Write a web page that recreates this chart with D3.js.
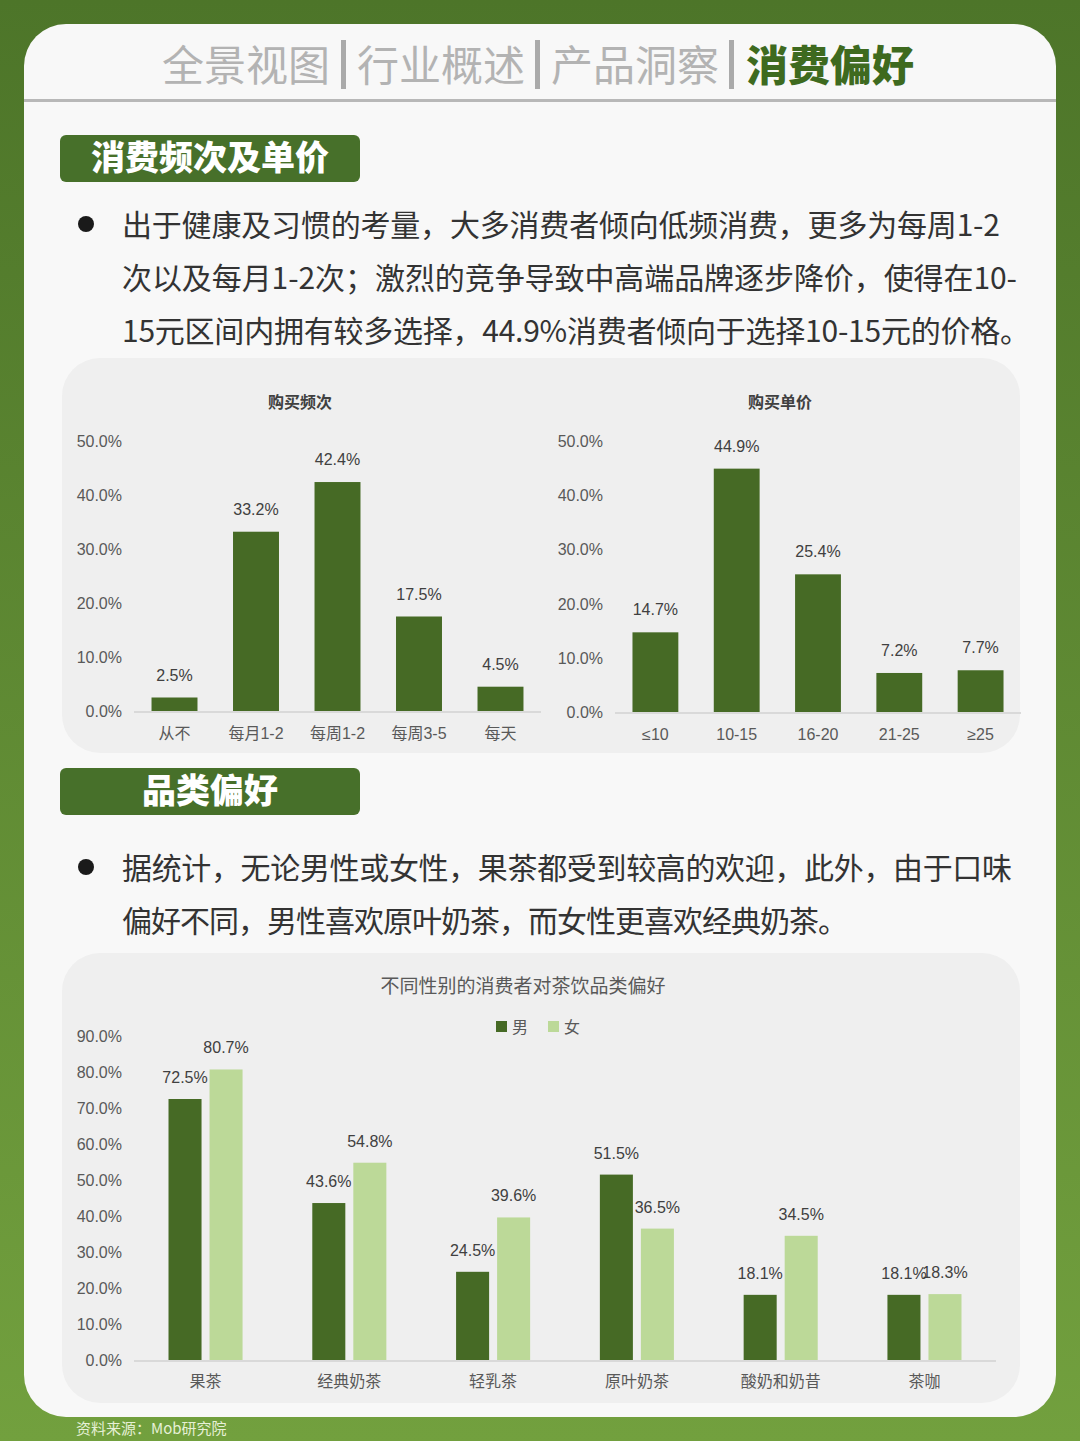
<!DOCTYPE html>
<html><head><meta charset="utf-8">
<script src="https://cdn.jsdelivr.net/npm/d3@7"></script>
<style>
html,body{margin:0;padding:0;background:#5a8330;}
svg{display:block;}
text{font-family:"Noto Sans CJK SC","Noto Sans",sans-serif;}
.num{font-family:"Liberation Sans",Arial,"Noto Sans CJK SC",sans-serif;}
</style></head>
<body>
<svg id="c" width="1080" height="1441"></svg>
<script>
// ---- data ----
const navItems = ["全景视图","行业概述","产品洞察","消费偏好"];
const freqCats = ["从不","每月1-2","每周1-2","每周3-5","每天"];
const freqVals = [2.5,33.2,42.4,17.5,4.5];
const priceCats = ["≤10","10-15","16-20","21-25","≥25"];
const priceVals = [14.7,44.9,25.4,7.2,7.7];
const smallTicks = [0,10,20,30,40,50];
const teaCats = ["果茶","经典奶茶","轻乳茶","原叶奶茶","酸奶和奶昔","茶咖"];
const genders = ["男","女"];
const maleVals = [72.5,43.6,24.5,51.5,18.1,18.1];
const femaleVals = [80.7,54.8,39.6,36.5,34.5,18.3];
const bigTicks = [0,10,20,30,40,50,60,70,80,90];
const para1 = ["出于健康及习惯的考量，大多消费者倾向低频消费，更多为每周1-2",
               "次以及每月1-2次；激烈的竞争导致中高端品牌逐步降价，使得在10-",
               "15元区间内拥有较多选择，44.9%消费者倾向于选择10-15元的价格。"];
const para2 = ["据统计，无论男性或女性，果茶都受到较高的欢迎，此外，由于口味",
               "偏好不同，男性喜欢原叶奶茶，而女性更喜欢经典奶茶。"];

const DARK="#466a25", LIGHT="#bcd998", TICK="#595959", LBL="#404040";
const fmt = v => d3.format(".1f")(v) + "%";
const svg = d3.select("#c");

// background gradient
const defs = svg.append("defs");
const g = defs.append("linearGradient").attr("id","bg").attr("x1",0).attr("y1",0).attr("x2",0).attr("y2",1);
g.append("stop").attr("offset","0%").attr("stop-color","#4d7529");
g.append("stop").attr("offset","100%").attr("stop-color","#72a03e");
svg.append("rect").attr("width",1080).attr("height",1441).attr("fill","url(#bg)");

// card
svg.append("rect").attr("x",24).attr("y",24).attr("width",1032).attr("height",1393).attr("rx",42).attr("fill","#f8f8f8");

// header nav
const navX = [162,357,551,746];
navItems.forEach((t,i)=>{
  svg.append("text").attr("x",navX[i]).attr("y",81).attr("font-size",42)
    .attr("font-weight", i===3?900:400).attr("fill", i===3?"#3e6a1f":"#b3b3b3").text(t);
});
[341,535,729].forEach(x=>{
  svg.append("rect").attr("x",x).attr("y",40).attr("width",5).attr("height",49).attr("fill","#aaaaaa");
});
svg.append("rect").attr("x",24).attr("y",99).attr("width",1032).attr("height",3).attr("fill","#b8b8b8");

// section boxes
function sectionBox(y, label){
  svg.append("rect").attr("x",60).attr("y",y).attr("width",300).attr("height",47).attr("rx",6).attr("fill","#47702a");
  svg.append("text").attr("x",210).attr("y",y+35).attr("text-anchor","middle").attr("font-size",34)
    .attr("font-weight",900).attr("fill","#fff").text(label);
}
sectionBox(135,"消费频次及单价");
sectionBox(768,"品类偏好");

// paragraphs
function para(lines, y0, widths){
  svg.append("circle").attr("cx",86).attr("cy",y0-12).attr("r",8).attr("fill","#1a1a1a");
  lines.forEach((t,i)=>{
    svg.append("text").attr("x",122).attr("y",y0+i*53).attr("font-size",30).attr("fill","#333")
      .attr("textLength",widths[i]).attr("lengthAdjust","spacing").text(t);
  });
}
para(para1, 236, [878,895,908]);
para(para2, 879, [890,726]);

// panels
svg.append("rect").attr("x",62).attr("y",358).attr("width",958).attr("height",395).attr("rx",38).attr("fill","#efefef");
svg.append("rect").attr("x",62).attr("y",953).attr("width",958).attr("height",450).attr("rx",38).attr("fill","#efefef");

// small bar charts
function smallChart(cats, vals, title, titleX, x0, x1, yTop, yBase, tickX){
  const x = d3.scaleBand().domain(cats).range([x0,x1]).paddingInner(0.436).paddingOuter(0.215);
  const y = d3.scaleLinear().domain([0,50]).range([yBase,yTop]);
  svg.append("text").attr("x",titleX).attr("y",408).attr("text-anchor","middle").attr("font-size",16)
    .attr("font-weight",700).attr("fill",LBL).text(title);
  smallTicks.forEach(t=>{
    svg.append("text").attr("class","num").attr("x",tickX).attr("y",y(t)+6).attr("text-anchor","end")
      .attr("font-size",16).attr("fill",TICK).text(fmt(t));
  });
  svg.append("line").attr("x1",x0).attr("x2",x1).attr("y1",yBase+1).attr("y2",yBase+1).attr("stroke","#d9d9d9").attr("stroke-width",2);
  const gg = svg.append("g");
  gg.selectAll("rect").data(vals).join("rect")
    .attr("x",(d,i)=>x(cats[i])).attr("width",x.bandwidth())
    .attr("y",d=>y(d)).attr("height",d=>yBase-y(d)).attr("fill",DARK);
  gg.selectAll("text.v").data(vals).join("text").attr("class","num v")
    .attr("x",(d,i)=>x(cats[i])+x.bandwidth()/2).attr("y",d=>y(d)-17)
    .attr("text-anchor","middle").attr("font-size",16).attr("fill",LBL).text(fmt);
  gg.selectAll("text.c").data(cats).join("text").attr("class","num c")
    .attr("x",d=>x(d)+x.bandwidth()/2).attr("y",yBase+28)
    .attr("text-anchor","middle").attr("font-size",16).attr("fill",TICK).text(d=>d);
}
smallChart(freqCats, freqVals, "购买频次", 300, 134, 541, 441, 711, 122);
smallChart(priceCats, priceVals, "购买单价", 780, 615, 1021, 441, 712, 603);

// grouped chart
(function(){
  const x0 = d3.scaleBand().domain(teaCats).range([134,996]).paddingInner(0.485).paddingOuter(0.24);
  const x1 = d3.scaleBand().domain(genders).range([0,x0.bandwidth()]).paddingInner(0.195);
  const y = d3.scaleLinear().domain([0,90]).range([1360,1036]);
  const color = d3.scaleOrdinal().domain(genders).range([DARK,LIGHT]);
  svg.append("text").attr("x",523).attr("y",993).attr("text-anchor","middle").attr("font-size",19)
    .attr("fill",TICK).text("不同性别的消费者对茶饮品类偏好");
  // legend
  const lx = [496,548];
  genders.forEach((gd,i)=>{
    svg.append("rect").attr("x",lx[i]).attr("y",1021).attr("width",11).attr("height",11).attr("fill",color(gd));
    svg.append("text").attr("x",lx[i]+16).attr("y",1033).attr("font-size",16).attr("fill",TICK).text(gd);
  });
  bigTicks.forEach(t=>{
    svg.append("text").attr("class","num").attr("x",122).attr("y",y(t)+6).attr("text-anchor","end")
      .attr("font-size",16).attr("fill",TICK).text(fmt(t));
  });
  svg.append("line").attr("x1",134).attr("x2",996).attr("y1",1361).attr("y2",1361).attr("stroke","#d9d9d9").attr("stroke-width",2);
  const rows = teaCats.map((c,i)=>({c, vals:[{g:"男",v:maleVals[i]},{g:"女",v:femaleVals[i]}]}));
  const grp = svg.append("g").selectAll("g").data(rows).join("g").attr("transform",d=>`translate(${x0(d.c)},0)`);
  grp.selectAll("rect").data(d=>d.vals).join("rect")
    .attr("x",d=>x1(d.g)).attr("width",x1.bandwidth()).attr("y",d=>y(d.v)).attr("height",d=>1360-y(d.v)).attr("fill",d=>color(d.g));
  grp.selectAll("text").data(d=>d.vals).join("text").attr("class","num")
    .attr("x",d=>x1(d.g)+x1.bandwidth()/2).attr("y",d=>y(d.v)-16).attr("text-anchor","middle")
    .attr("font-size",16).attr("fill",LBL).text(d=>fmt(d.v));
  svg.append("g").selectAll("text").data(teaCats).join("text")
    .attr("x",d=>x0(d)+x0.bandwidth()/2).attr("y",1387).attr("text-anchor","middle")
    .attr("font-size",16).attr("fill",TICK).text(d=>d);
})();

// footer
svg.append("text").attr("x",76).attr("y",1434).attr("font-size",15).attr("fill","#e6f0d6").text("资料来源：Mob研究院");
</script>
</body></html>
